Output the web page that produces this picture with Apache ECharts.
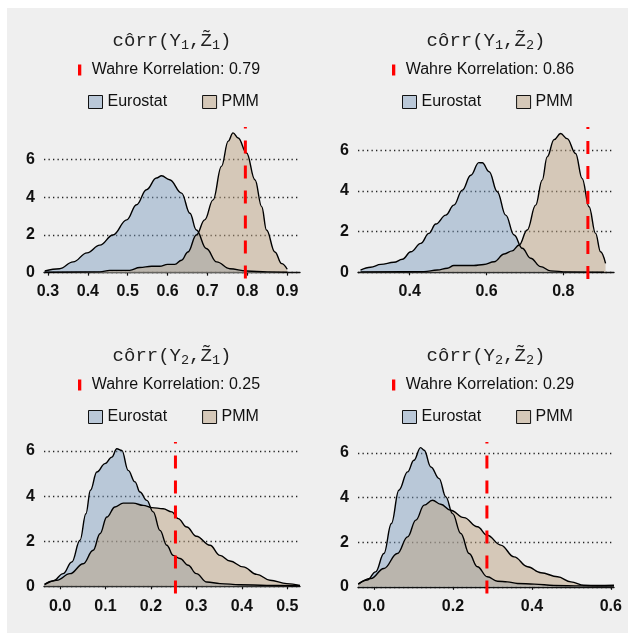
<!DOCTYPE html>
<html>
<head>
<meta charset="utf-8">
<script src="https://cdn.jsdelivr.net/npm/echarts@6/dist/echarts.min.js"></script>
<style>
html,body{margin:0;padding:0;background:#ffffff;}
#chart{width:628px;height:633px;}
</style>
</head>
<body>
<div id="chart"></div>
<script>
// ---- data ----
const seriesNames = ['Eurostat', 'PMM'];
const truthValues = [0.795, 0.864, 0.254, 0.286];
const truthLabels = ['0.79', '0.86', '0.25', '0.29'];
const yTicks = [0, 2, 4, 6];
const xTicks1 = [0.3, 0.4, 0.5, 0.6, 0.7, 0.8, 0.9];
const xTicks2 = [0.4, 0.6, 0.8];
const xTicks3 = [0.0, 0.1, 0.2, 0.3, 0.4, 0.5];
const xTicks4 = [0.0, 0.2, 0.4, 0.6];

const euro1 = [[0.292,0.09],[0.329,0.21],[0.363,0.57],[0.398,1.05],[0.43,1.46],[0.463,2.0],[0.4975,2.8],[0.522,3.6],[0.547,4.4],[0.572,5.02],[0.585,5.14],[0.605,4.93],[0.635,4.22],[0.656,3.15],[0.672,2.26],[0.697,1.28],[0.723,0.57],[0.756,0.21],[0.798,0.09],[0.85,0.04],[0.9,0.02]];
const pmm1 = [[0.292,0.02],[0.43,0.04],[0.455,0.12],[0.505,0.12],[0.53,0.27],[0.56,0.34],[0.58,0.34],[0.6,0.44],[0.618,0.44],[0.635,0.66],[0.651,1.1],[0.672,2.0],[0.693,2.8],[0.714,3.86],[0.735,5.64],[0.752,6.98],[0.764,7.42],[0.777,7.15],[0.798,6.35],[0.819,4.93],[0.836,3.5],[0.848,2.26],[0.869,1.1],[0.886,0.48],[0.9,0.18]];

const euro2 = [[0.272,0.11],[0.298,0.25],[0.325,0.39],[0.359,0.49],[0.381,0.64],[0.403,1.01],[0.429,1.42],[0.45,1.91],[0.468,2.37],[0.494,2.81],[0.515,3.3],[0.537,4.04],[0.559,4.77],[0.58,5.39],[0.589,5.38],[0.607,4.94],[0.628,3.96],[0.65,2.81],[0.672,1.83],[0.693,1.18],[0.715,0.69],[0.741,0.28],[0.767,0.07],[0.81,0.02],[0.906,0.0]];
const pmm2 = [[0.272,0.02],[0.437,0.03],[0.472,0.11],[0.498,0.2],[0.515,0.33],[0.541,0.33],[0.567,0.33],[0.593,0.38],[0.62,0.52],[0.646,0.9],[0.667,1.05],[0.685,1.34],[0.706,2.08],[0.728,3.3],[0.745,4.53],[0.758,5.67],[0.776,6.52],[0.793,6.82],[0.81,6.57],[0.832,5.84],[0.849,4.61],[0.867,3.22],[0.884,1.91],[0.897,1.01],[0.91,0.44]];

const euro3 = [[-0.034,0.09],[-0.015,0.24],[0.007,0.56],[0.026,1.08],[0.044,2.04],[0.057,3.22],[0.067,4.26],[0.081,5.07],[0.099,5.44],[0.114,5.73],[0.125,6.1],[0.136,6.03],[0.15,5.14],[0.165,4.63],[0.176,4.18],[0.191,3.81],[0.205,3.3],[0.22,2.48],[0.235,1.82],[0.249,1.37],[0.264,1.23],[0.282,0.93],[0.3,0.56],[0.323,0.19],[0.352,0.12],[0.396,0.07],[0.455,0.04],[0.528,0.03]];
const pmm3 = [[-0.034,0.07],[-0.007,0.27],[0.022,0.56],[0.051,1.0],[0.073,1.6],[0.088,2.33],[0.103,3.07],[0.121,3.52],[0.139,3.69],[0.161,3.69],[0.183,3.59],[0.202,3.49],[0.227,3.44],[0.246,3.3],[0.26,3.0],[0.279,2.63],[0.3,2.22],[0.33,1.82],[0.352,1.37],[0.374,1.12],[0.403,0.86],[0.433,0.53],[0.462,0.27],[0.499,0.12],[0.528,0.04]];

const euro4 = [[-0.04,0.12],[-0.017,0.3],[0.004,0.67],[0.025,1.49],[0.044,2.84],[0.063,4.33],[0.085,5.15],[0.101,5.67],[0.118,6.24],[0.127,6.12],[0.144,5.37],[0.165,4.85],[0.182,4.03],[0.199,3.28],[0.22,2.39],[0.241,1.49],[0.262,0.9],[0.287,0.45],[0.313,0.25],[0.338,0.22],[0.363,0.15],[0.406,0.12],[0.456,0.06],[0.524,0.04],[0.608,0.03]];
const pmm4 = [[-0.04,0.12],[-0.008,0.37],[0.025,0.82],[0.059,1.49],[0.085,2.24],[0.106,2.99],[0.127,3.66],[0.148,3.88],[0.169,3.7],[0.194,3.43],[0.228,3.1],[0.262,2.69],[0.287,2.31],[0.321,1.87],[0.355,1.34],[0.389,0.9],[0.423,0.63],[0.465,0.45],[0.499,0.22],[0.532,0.07],[0.566,0.06],[0.608,0.07]];

const titleY = ['1', '1', '2', '2'];
const titleZ = ['1', '2', '1', '2'];

// ---- layout / style ----
const panels = [
  {grid:{left:44, top:127, width:256, height:151.5}, xMin:0.29, xMax:0.932, yMin:-0.31, yMax:7.73, xTicks:xTicks1, euro:euro1, pmm:pmm1},
  {grid:{left:358, top:127, width:256, height:152}, xMin:0.2654, xMax:0.932, yMin:-0.33, yMax:7.14, xTicks:xTicks2, euro:euro2, pmm:pmm2},
  {grid:{left:44, top:442, width:256, height:151.5}, xMin:-0.0352, xMax:0.528, yMin:-0.32, yMax:6.4, xTicks:xTicks3, euro:euro3, pmm:pmm3},
  {grid:{left:358, top:442, width:256, height:151.5}, xMin:-0.0406, xMax:0.608, yMin:-0.3, yMax:6.49, xTicks:xTicks4, euro:euro4, pmm:pmm4}
];
const sans = "'Liberation Sans', Arial, Helvetica, sans-serif";
const mono = "'Liberation Mono', 'Courier New', monospace";
const ink = '#111111';
const euroFill = 'rgba(119,152,188,0.45)';
const pmmFill = 'rgba(187,161,129,0.5)';
const euroBox = '#bac8d8';
const pmmBox = '#d5c8b8';

const grid = [], xAxis = [], yAxis = [], series = [], legend = [], title = [];
panels.forEach((p, i) => {
  const dx = (i % 2) ? 314 : 0;
  const dy = (i >= 2) ? 315 : 0;
  grid.push(p.grid);
  xAxis.push({
    type:'value', gridIndex:i, min:p.xMin, max:p.xMax,
    axisLine:{show:true, lineStyle:{color:ink, width:1.4}},
    axisTick:{show:true, length:3, lineStyle:{color:ink, width:1.2}, customValues:p.xTicks},
    axisLabel:{customValues:p.xTicks, formatter:(v)=>v.toFixed(1), fontSize:16, fontWeight:'bold', color:ink, fontFamily:sans, margin:5},
    splitLine:{show:false}
  });
  yAxis.push({
    type:'value', gridIndex:i, min:p.yMin, max:p.yMax,
    axisLine:{show:false},
    axisTick:{show:false, customValues:yTicks},
    axisLabel:{customValues:yTicks, fontSize:16, fontWeight:'bold', color:ink, fontFamily:sans, margin:9},
    splitLine:{show:true, lineStyle:{color:'#222', width:1.3, type:[1.3, 3.2]}}
  });
  series.push({
    name:seriesNames[0], type:'line', xAxisIndex:i, yAxisIndex:i, data:p.euro,
    symbol:'none', smooth:0.4, smoothMonotone:'x',
    lineStyle:{color:'#000', width:1.4}, itemStyle:{color:euroBox},
    areaStyle:{color:euroFill, opacity:1}
  });
  series.push({
    name:seriesNames[1], type:'line', xAxisIndex:i, yAxisIndex:i, data:p.pmm,
    symbol:'none', smooth:0.4, smoothMonotone:'x',
    lineStyle:{color:'#000', width:1.4}, itemStyle:{color:pmmBox},
    areaStyle:{color:pmmFill, opacity:1}
  });
  const redName = 'Wahre Korrelation: ' + truthLabels[i];
  series.push({
    name:redName, type:'line', xAxisIndex:i, yAxisIndex:i,
    data:[[truthValues[i], p.yMin], [truthValues[i], p.yMax]],
    symbol:'none', z:5, itemStyle:{color:'#ff0000'},
    lineStyle:{color:'#ff0000', width:3, type:[13, 12]}
  });
  legend.push({
    left:78 + dx, top:62 + dy, padding:0, selectedMode:false,
    icon:'path://M0,0H3V10H0Z', itemWidth:14, itemHeight:11,
    textStyle:{fontSize:16, color:ink, fontFamily:sans},
    data:[{name:redName, itemStyle:{color:'#ff0000', borderWidth:0}}]
  });
  legend.push({
    left:88 + dx, top:94 + dy, padding:0, selectedMode:false,
    icon:'rect', itemWidth:14, itemHeight:13, itemGap:35,
    textStyle:{fontSize:16, color:ink, fontFamily:sans},
    data:[
      {name:seriesNames[0], itemStyle:{color:euroBox, borderColor:ink, borderWidth:1}},
      {name:seriesNames[1], itemStyle:{color:pmmBox, borderColor:ink, borderWidth:1}}
    ]
  });
  title.push({
    left:172 + dx, top:28.5 + dy, padding:0, textAlign:'center',
    text:'{m|c\u00f4rr(Y}{s|' + titleY[i] + '}{m|,Z\u0303}{s|' + titleZ[i] + '}{m|)}',
    textStyle:{
      fontWeight:'normal',
      rich:{
        m:{fontFamily:mono, fontSize:19, fontWeight:'normal', lineHeight:24, color:'#222'},
        s:{fontFamily:mono, fontSize:13.5, fontWeight:'normal', lineHeight:14, verticalAlign:'bottom', color:'#222'}
      }
    }
  });
});

const chart = echarts.init(document.getElementById('chart'), null, {renderer:'canvas'});
chart.setOption({
  backgroundColor:'#ffffff',
  animation:false,
  graphic:[{type:'rect', z:-100, silent:true, shape:{x:7, y:8, width:621, height:625}, style:{fill:'#efefef'}}],
  title:title, legend:legend, grid:grid, xAxis:xAxis, yAxis:yAxis, series:series
});
</script>
</body>
</html>
